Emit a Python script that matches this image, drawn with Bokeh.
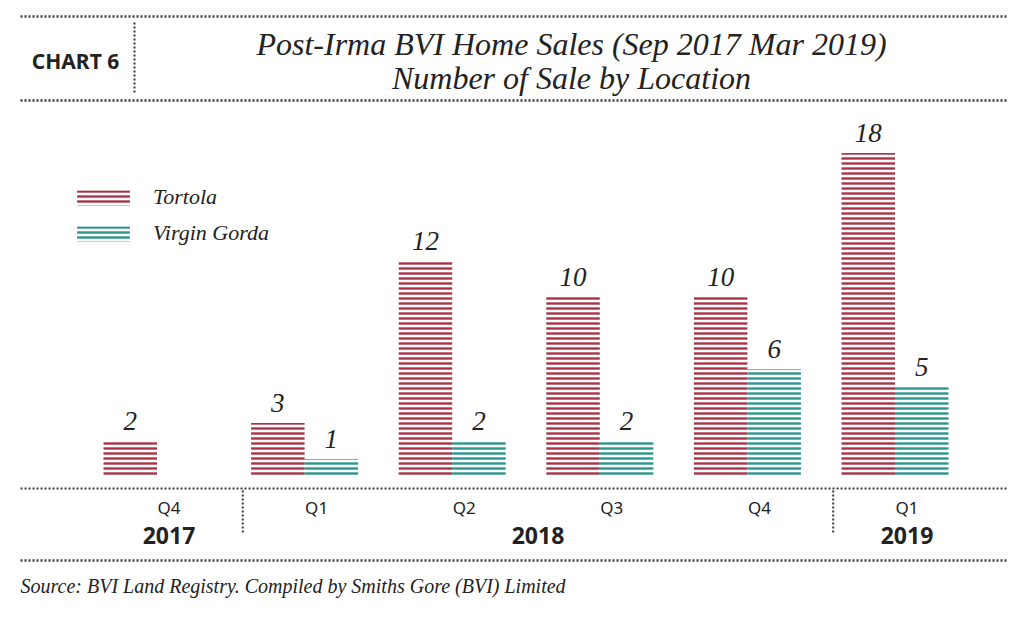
from bokeh.plotting import figure
from bokeh.models import Range1d, ColumnDataSource, Legend, LegendItem
from bokeh.transform import dodge
from bokeh.core.properties import value
from bokeh.embed import file_html
from bokeh.resources import INLINE

# ---------------- data ----------------
quarters = ["Q4", "Q1", "Q2", "Q3", "Q4", "Q1"]
years = ["2017", "2018", "2018", "2018", "2018", "2019"]
tortola = [2, 3, 12, 10, 10, 18]
virgin_gorda = [0, 1, 2, 2, 6, 5]
series_names = ["Tortola", "Virgin Gorda"]
title_lines = ["Post-Irma BVI Home Sales (Sep 2017 Mar 2019)", "Number of Sale by Location"]
chart_tag = "CHART 6"
source_note = "Source: BVI Land Registry. Compiled by Smiths Gore (BVI) Limited"

# ---------------- layout helpers ----------------
W, H = 1008, 610
GX0 = 156.5   # px of first group centre
GDX = 147.6   # px per group
BASE = 476.5  # px of zero
PY = 18.0     # px per sale

RED = "#aa3246"
TEAL = "#2a968b"
INK = "#222222"
DOT = "#3a3a3a"
SERIF = value("Liberation Serif")
SANS = value("Noto Sans")


def X(px):
    return (px - GX0) / GDX


def Y(py):
    return (BASE - py) / PY


p = figure(width=W, height=H, x_range=Range1d(X(0), X(W)), y_range=Range1d(Y(H), Y(0)),
           min_border=0, toolbar_location=None, output_backend="svg",
           x_axis_location=None, y_axis_location=None)
p.grid.visible = False
p.outline_line_color = None
p.background_fill_color = "white"

idx = list(range(len(quarters)))
src = ColumnDataSource(dict(
    idx=idx, quarter=quarters, year=years, tortola=tortola, vg=virgin_gorda,
    t_lbl=[str(v) for v in tortola],
    vg_lbl=[str(v) if v else "" for v in virgin_gorda],
))

bar_w = 53.5 / GDX
common = dict(width=bar_w, source=src, fill_color=None, line_color=None,
              hatch_pattern="horizontal_line", hatch_scale=5, hatch_weight=2.4)
r1 = p.vbar(x=dodge("idx", -bar_w / 2, range=p.x_range), top="tortola", hatch_color=RED, **common)
r2 = p.vbar(x=dodge("idx", bar_w / 2, range=p.x_range), top="vg", hatch_color=TEAL, **common)

lbl = dict(source=src, text_align="center", text_baseline="bottom", y_offset=-11,
           text_font=SERIF, text_font_style="italic", text_font_size="27px", text_color=INK)
p.text(x=dodge("idx", -bar_w / 2, range=p.x_range), y="tortola", text="t_lbl", **lbl)
p.text(x=dodge("idx", bar_w / 2, range=p.x_range), y="vg", text="vg_lbl", **lbl)

# ---------------- category labels ----------------
LOFF = 12 / GDX
p.text(x=dodge("idx", LOFF, range=p.x_range), y=Y(507), text="quarter", source=src,
       text_align="center", text_baseline="middle", text_font=SANS, text_font_size="17px", text_color=INK)

yr_names, yr_pos, seps = [], [], []
for i, yv in enumerate(years):
    if not yr_names or yr_names[-1] != yv:
        yr_names.append(yv)
        yr_pos.append([])
        if i > 0:
            seps.append(i - 0.5 + LOFF)
    yr_pos[-1].append(i)
yr_x = [sum(g) / len(g) + LOFF for g in yr_pos]
p.text(x=yr_x, y=[Y(535)] * len(yr_x), text=yr_names, text_align="center", text_baseline="middle",
       text_font=SANS, text_font_style="bold", text_font_size="23px", text_color=INK)
p.segment(x0=seps, x1=seps, y0=[Y(490)] * len(seps), y1=[Y(534)] * len(seps),
          line_color=DOT, line_width=2, line_dash="2 2")

# ---------------- rules ----------------
hx0, hx1 = X(20), X(1006)
p.segment(x0=[hx0] * 3, x1=[hx1] * 3, y0=[Y(16), Y(100), Y(560)], y1=[Y(16), Y(100), Y(560)],
          line_color=DOT, line_width=2.4, line_dash="2 2")
p.segment(x0=[hx0], x1=[hx1], y0=[Y(488)], y1=[Y(488)], line_color=DOT, line_width=1.8, line_dash="2 2")
p.segment(x0=[X(134)], x1=[X(134)], y0=[Y(22)], y1=[Y(94)], line_color=DOT, line_width=2, line_dash="2 2")

# ---------------- header & footer text ----------------
p.text(x=[X(75)], y=[Y(60)], text=[chart_tag], text_align="center", text_baseline="middle",
       text_font=SANS, text_font_style="bold", text_font_size="21px", text_color=INK)
p.text(x=[X(571)] * 2, y=[Y(43), Y(77)], text=title_lines, text_align="center", text_baseline="middle",
       text_font=SERIF, text_font_style="italic", text_font_size="32px", text_color=INK)
p.text(x=[X(20)], y=[Y(585)], text=[source_note], text_align="left", text_baseline="middle",
       text_font=SERIF, text_font_style="italic", text_font_size="20px", text_color=INK)

# ---------------- legend ----------------
legend = Legend(items=[LegendItem(label=series_names[0], renderers=[r1]),
                       LegendItem(label=series_names[1], renderers=[r2])],
                location=(70, 364), orientation="vertical",
                label_text_font="Liberation Serif", label_text_font_style="italic",
                label_text_font_size="22px", label_text_color=INK,
                glyph_width=66, glyph_height=19, label_height=24, label_standoff=17,
                spacing=10, padding=0, margin=0,
                border_line_color=None, background_fill_alpha=0)
p.add_layout(legend)

open("out.html", "w").write(file_html(p, INLINE))
